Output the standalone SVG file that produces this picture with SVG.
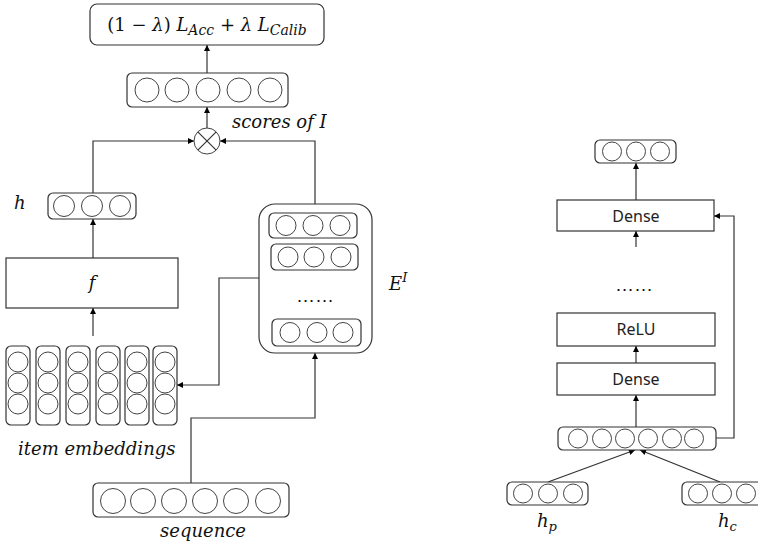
<svg xmlns="http://www.w3.org/2000/svg" width="758" height="545" viewBox="0 0 758 545">
<style>
.box{fill:#fff;stroke:#333;stroke-width:1.2}
.c{fill:#fff;stroke:#444;stroke-width:1}
.ln{fill:none;stroke:#333;stroke-width:1.2}
.m{font-family:"DejaVu Serif","Liberation Serif",serif;font-style:italic;font-size:18px;fill:#111}
.up{font-style:normal}
.s{font-family:"Noto Sans","Liberation Sans",sans-serif;font-size:16px;fill:#222}
.dots{font-family:"Liberation Sans",sans-serif;font-size:19px;fill:#111}
</style>
<defs>
<marker id="arr" viewBox="0 0 10 10" refX="10" refY="5" markerWidth="7" markerHeight="6" orient="auto" markerUnits="userSpaceOnUse"><path d="M0,0 L10,5 L0,10 z" fill="#000"/></marker>
</defs>

<g id="connectors">
<path class="ln" d="M207,73 V45" marker-end="url(#arr)"/>
<path class="ln" d="M207,128 V107" marker-end="url(#arr)"/>
<path class="ln" d="M93,193 V141 H194" marker-end="url(#arr)"/>
<path class="ln" d="M315,204 V141 H220" marker-end="url(#arr)"/>
<path class="ln" d="M93,258 V219" marker-end="url(#arr)"/>
<path class="ln" d="M93,336 V308" marker-end="url(#arr)"/>
<path class="ln" d="M259,278 H219 V385 H177" marker-end="url(#arr)"/>
<path class="ln" d="M191,483 V418 H315 V353" marker-end="url(#arr)"/>
<path class="ln" d="M636,247 V231" marker-end="url(#arr)"/>
<path class="ln" d="M636,200 V163" marker-end="url(#arr)"/>
<path class="ln" d="M636,363 V346" marker-end="url(#arr)"/>
<path class="ln" d="M636,427 V395" marker-end="url(#arr)"/>
<path class="ln" d="M716,438 H734 V216 H714" marker-end="url(#arr)"/>
<path class="ln" d="M548,482 L635,450" marker-end="url(#arr)"/>
<path class="ln" d="M720,482 L640,450" marker-end="url(#arr)"/>
</g>

<g id="loss">
<rect class="box" x="90" y="4" width="234" height="41" rx="7"/>
<text class="m" x="207" y="31" text-anchor="middle" font-size="20"><tspan class="up">(1 − </tspan>λ<tspan class="up">) </tspan>L<tspan font-size="14" dy="4">Acc</tspan><tspan class="up" dy="-4"> + </tspan>λ L<tspan font-size="14" dy="4">Calib</tspan></text>
</g>

<g id="scores">
<rect class="box" x="127" y="73" width="161" height="34" rx="5"/>
<circle class="c" cx="147" cy="90" r="12"/>
<circle class="c" cx="177" cy="90" r="12"/>
<circle class="c" cx="208" cy="90" r="12"/>
<circle class="c" cx="239" cy="90" r="12"/>
<circle class="c" cx="270" cy="90" r="12"/>
<text class="m" x="232" y="128">scores of I</text>
</g>

<g id="otimes">
<circle class="c" cx="207" cy="141" r="13" stroke="#333"/>
<path class="ln" d="M197.8,131.8 L216.2,150.2 M216.2,131.8 L197.8,150.2"/>
</g>

<g id="h">
<rect class="box" x="48" y="193" width="88" height="26" rx="5"/>
<circle class="c" cx="64" cy="206" r="10.5"/>
<circle class="c" cx="92" cy="206" r="10.5"/>
<circle class="c" cx="120" cy="206" r="10.5"/>
<text class="m" x="14" y="209">h</text>
</g>

<g id="f">
<rect class="box" x="6" y="258" width="172" height="50"/>
<text class="m" x="92" y="289" text-anchor="middle">f</text>
</g>

<g id="item-embeddings">
<g>
<rect class="box" x="6" y="346" width="24" height="79" rx="5"/>
<circle class="c" cx="18" cy="362" r="10"/><circle class="c" cx="18" cy="383" r="10"/><circle class="c" cx="18" cy="404" r="10"/>
</g>
<g>
<rect class="box" x="36" y="346" width="24" height="79" rx="5"/>
<circle class="c" cx="48" cy="362" r="10"/><circle class="c" cx="48" cy="383" r="10"/><circle class="c" cx="48" cy="404" r="10"/>
</g>
<g>
<rect class="box" x="66" y="346" width="24" height="79" rx="5"/>
<circle class="c" cx="78" cy="362" r="10"/><circle class="c" cx="78" cy="383" r="10"/><circle class="c" cx="78" cy="404" r="10"/>
</g>
<g>
<rect class="box" x="96" y="346" width="24" height="79" rx="5"/>
<circle class="c" cx="108" cy="362" r="10"/><circle class="c" cx="108" cy="383" r="10"/><circle class="c" cx="108" cy="404" r="10"/>
</g>
<g>
<rect class="box" x="125" y="346" width="24" height="79" rx="5"/>
<circle class="c" cx="137" cy="362" r="10"/><circle class="c" cx="137" cy="383" r="10"/><circle class="c" cx="137" cy="404" r="10"/>
</g>
<g>
<rect class="box" x="153" y="346" width="24" height="79" rx="5"/>
<circle class="c" cx="165" cy="362" r="10"/><circle class="c" cx="165" cy="383" r="10"/><circle class="c" cx="165" cy="404" r="10"/>
</g>
<text class="m" x="18" y="455" font-size="18.5">item embeddings</text>
</g>

<g id="EI">
<rect class="box" x="259" y="204" width="113" height="149" rx="16"/>
<rect class="box" x="269" y="213" width="88" height="25" rx="5"/>
<circle class="c" cx="286" cy="225.5" r="10"/><circle class="c" cx="313" cy="225.5" r="10"/><circle class="c" cx="340" cy="225.5" r="10"/>
<rect class="box" x="271" y="244" width="87" height="26" rx="5"/>
<circle class="c" cx="288" cy="257" r="10"/><circle class="c" cx="314" cy="257" r="10"/><circle class="c" cx="341" cy="257" r="10"/>
<text class="dots" x="315" y="302" text-anchor="middle">……</text>
<rect class="box" x="272" y="319" width="89" height="27" rx="5"/>
<circle class="c" cx="290" cy="332.5" r="10"/><circle class="c" cx="317" cy="332.5" r="10"/><circle class="c" cx="343" cy="332.5" r="10"/>
<text class="m" x="389" y="290" font-size="19">E<tspan font-size="13" dy="-8">I</tspan></text>
</g>

<g id="sequence">
<rect class="box" x="93" y="483" width="196" height="34" rx="5"/>
<circle class="c" cx="113" cy="501" r="12.5"/>
<circle class="c" cx="143" cy="501" r="12.5"/>
<circle class="c" cx="174" cy="501" r="12.5"/>
<circle class="c" cx="205" cy="501" r="12.5"/>
<circle class="c" cx="236" cy="501" r="12.5"/>
<circle class="c" cx="268" cy="501" r="12.5"/>
<text class="m" x="203" y="537" text-anchor="middle">sequence</text>
</g>

<g id="out">
<rect class="box" x="595" y="140" width="81" height="23" rx="5"/>
<circle class="c" cx="612" cy="151.5" r="9.5"/><circle class="c" cx="636" cy="151.5" r="9.5"/><circle class="c" cx="660" cy="151.5" r="9.5"/>
</g>

<g id="dense-top">
<rect class="box" x="557" y="200" width="157" height="31"/>
<text class="s" x="636" y="221.5" text-anchor="middle">Dense</text>
</g>

<g id="dots-right">
<text class="dots" x="634" y="291" text-anchor="middle">……</text>
</g>

<g id="relu">
<rect class="box" x="557" y="313" width="158" height="33"/>
<text class="s" x="636" y="335" text-anchor="middle">ReLU</text>
</g>

<g id="dense-bottom">
<rect class="box" x="557" y="363" width="158" height="32"/>
<text class="s" x="636" y="384.5" text-anchor="middle">Dense</text>
</g>

<g id="concat">
<rect class="box" x="558" y="427" width="158" height="23" rx="5"/>
<circle class="c" cx="578" cy="438.5" r="9.5"/><circle class="c" cx="602" cy="438.5" r="9.5"/><circle class="c" cx="625" cy="438.5" r="9.5"/>
<circle class="c" cx="648" cy="438.5" r="9.5"/><circle class="c" cx="672" cy="438.5" r="9.5"/><circle class="c" cx="694" cy="438.5" r="9.5"/>
</g>

<g id="hp">
<rect class="box" x="507" y="482" width="81" height="23" rx="5"/>
<circle class="c" cx="523" cy="493.5" r="9.5"/><circle class="c" cx="548" cy="493.5" r="9.5"/><circle class="c" cx="573" cy="493.5" r="9.5"/>
<text class="m" x="537" y="527">h<tspan font-size="13" dy="4">p</tspan></text>
</g>

<g id="hc">
<rect class="box" x="682" y="482" width="82" height="23" rx="5"/>
<circle class="c" cx="698" cy="493.5" r="9.5"/><circle class="c" cx="722" cy="493.5" r="9.5"/><circle class="c" cx="746" cy="493.5" r="9.5"/>
<text class="m" x="718" y="527">h<tspan font-size="13" dy="4">c</tspan></text>
</g>
</svg>
